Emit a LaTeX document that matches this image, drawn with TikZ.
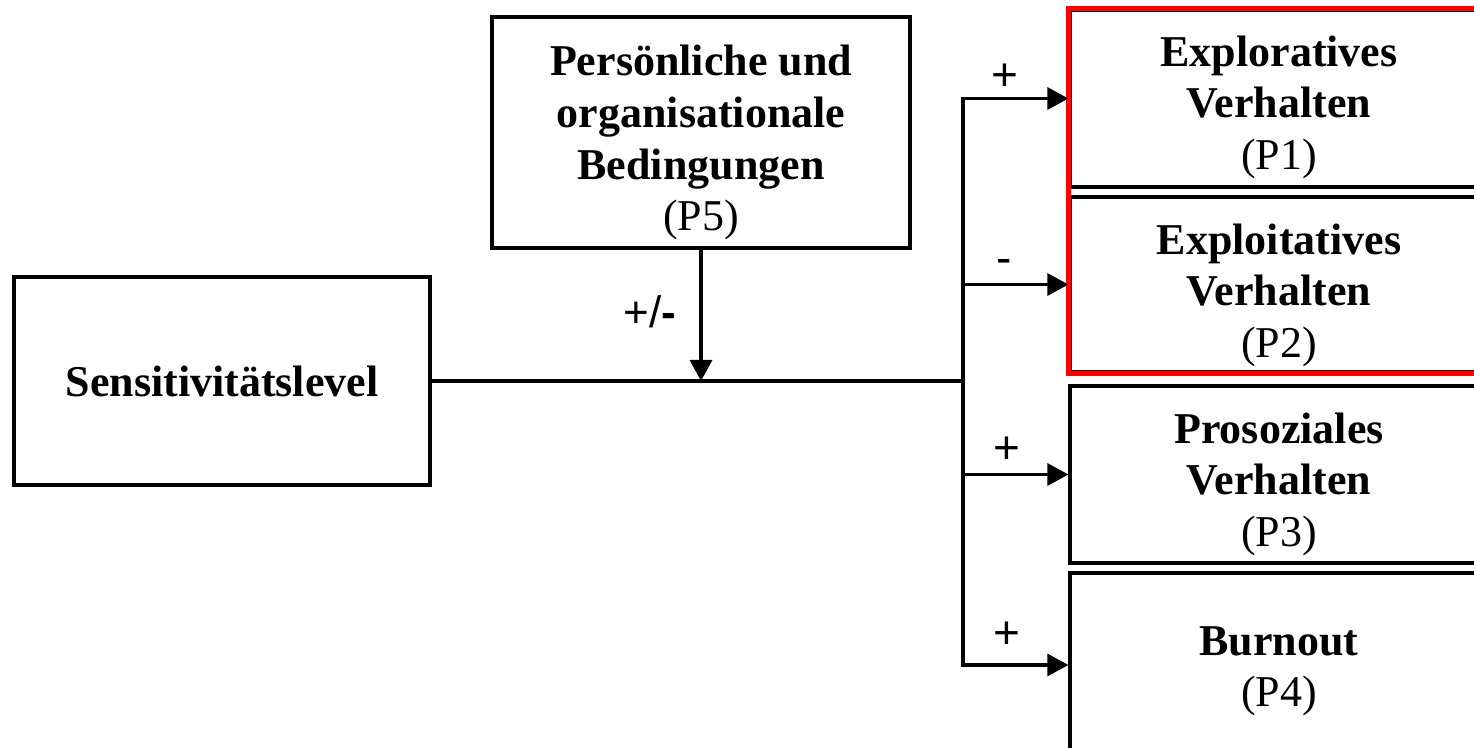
\documentclass[tikz,border=0pt]{standalone}
\usepackage{fontspec}
\setmainfont{Liberation Serif}
\newfontfamily\labsans{Liberation Sans}
\usetikzlibrary{arrows.meta,fit}
\newcommand\topstrut[1]{\rule{0pt}{#1}}
\begin{document}
\begin{tikzpicture}[x=0.5pt,y=-0.5pt,
  box/.style={draw, line width=1.6pt, inner sep=0pt, align=center,
    font=\fontsize{22}{25.8}\selectfont\bfseries},
  conn/.style={line width=1.6pt},
  arr/.style={line width=1.6pt, -{Triangle[length=10.5pt,width=11pt]}},
  sign/.style={font=\labsans\fontsize{23}{26}\selectfont, inner sep=0pt},
  redframe/.style={draw=red, line width=2.2pt, inner sep=0pt}
]
\useasboundingbox (0,0) rectangle (1474,748);
\clip (0,0) rectangle (1474,748);
\fill[white] (0,0) rectangle (1474,748);

\node[box, minimum width=208pt, minimum height=104pt] (S) at (222,381) {Sensitivitätslevel};
\node[box, minimum width=209pt, minimum height=115.5pt] (P5) at (701,132.5)
  {\topstrut{25.5pt}Persönliche und\\organisationale\\Bedingungen\\\mdseries(P5)};

\node[box, minimum width=209pt, minimum height=88.5pt] (P1) at (1279,98.5)
  {\topstrut{24pt}Exploratives\\Verhalten\\\mdseries(P1)};
\node[box, minimum width=209pt, minimum height=87.5pt] (P2) at (1279,284.5)
  {\topstrut{26pt}Exploitatives\\Verhalten\\\mdseries(P2)};
\node[box, minimum width=209pt, minimum height=88.5pt] (P3) at (1279,474.5)
  {\topstrut{25pt}Prosoziales\\Verhalten\\\mdseries(P3)};
\node[box, minimum width=209pt, minimum height=92pt] (P4) at (1279,665)
  {\topstrut{20.5pt}Burnout\\\mdseries(P4)};

\node[redframe, fit=(P1)(P2)] (grp) {};

\coordinate (bus) at (963,381);
\draw[conn] (S.east) -- (bus);
\draw[conn, line cap=rect] (bus |- P1.west) -- (bus |- P4.west);
\draw[arr] (bus |- P1.west) -- (P1.west);
\draw[arr] (bus |- P2.west) -- (P2.west);
\draw[arr] (bus |- P3.west) -- (P3.west);
\draw[arr] (bus |- P4.west) -- (P4.west);
\draw[arr] (P5.south) -- (P5.south |- S.east);

\node[sign] (l1) at (1005,77) {+};
\node[sign] (l2) at (1004,266) {-};
\node[sign] (l3) at (1007,450) {+};
\node[sign] (l4) at (1007,635) {+};
\node[inner sep=0pt, font=\labsans\fontsize{22}{26}\selectfont] (l5) at (650,312) {+/\textbf{-}};
\end{tikzpicture}
\end{document}
